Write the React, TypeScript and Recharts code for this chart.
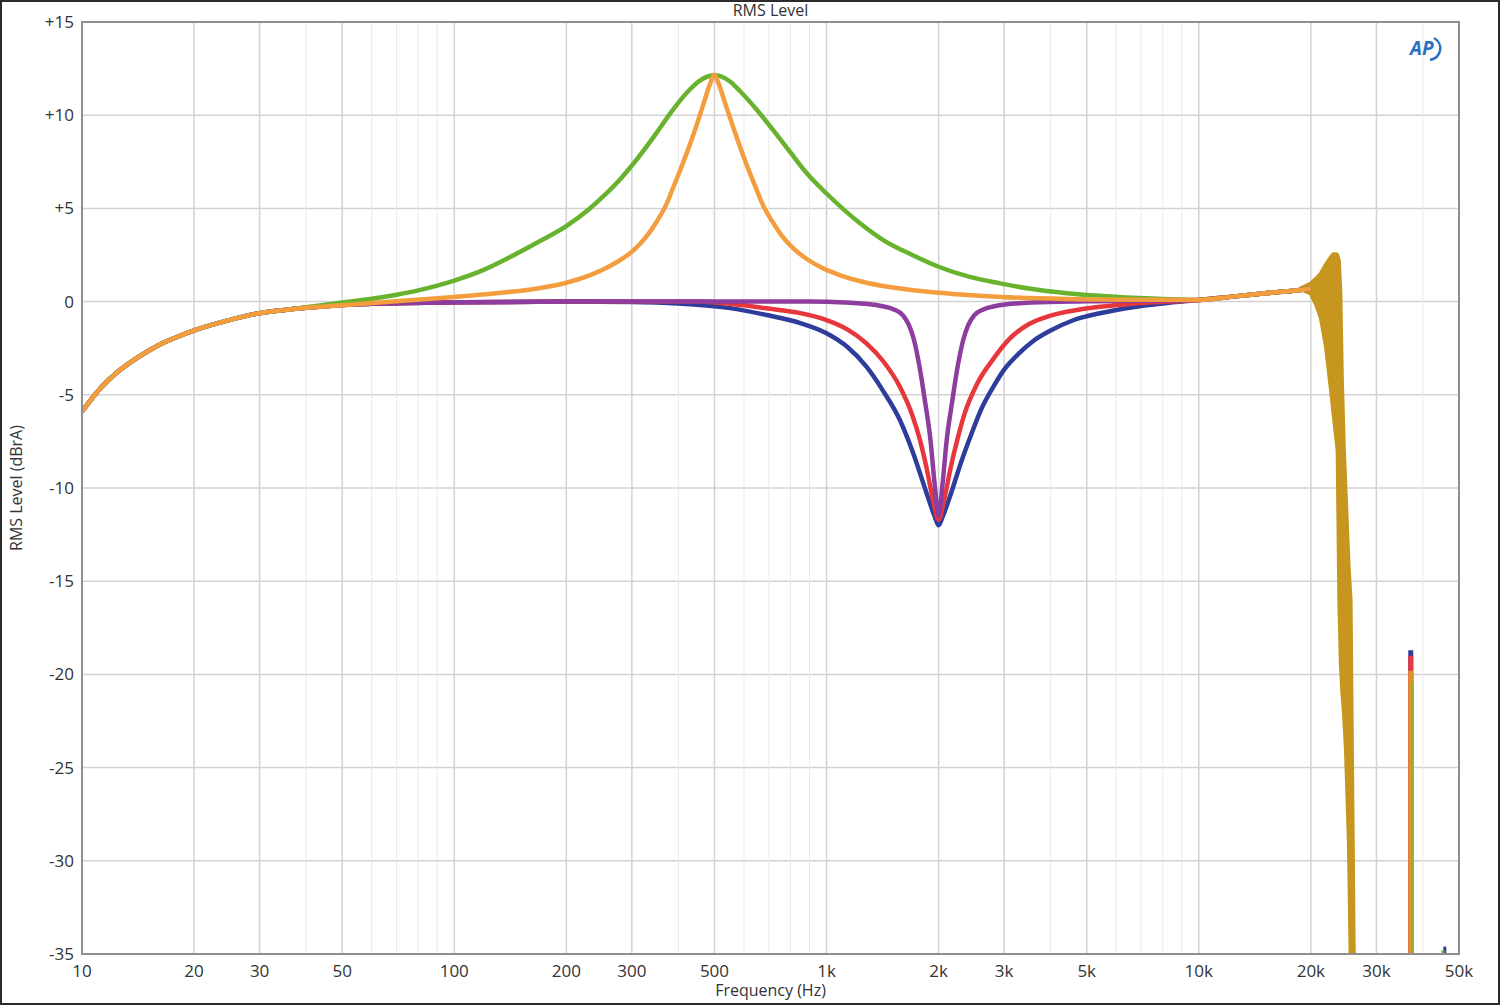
import { Area, CartesianGrid, ComposedChart, Line, XAxis, YAxis } from "recharts";

type Pt = [number, number];

// axis ticks
const xTicks = [10, 20, 30, 50, 100, 200, 300, 500, 1000, 2000, 3000, 5000, 10000, 20000, 30000, 50000];
const xTickLabels = ["10", "20", "30", "50", "100", "200", "300", "500", "1k", "2k", "3k", "5k", "10k", "20k", "30k", "50k"];
const minorFreqs = [40, 60, 70, 80, 90, 400, 600, 700, 800, 900, 4000, 6000, 7000, 8000, 9000, 40000];
const yTicks = [-35, -30, -25, -20, -15, -10, -5, 0, 5, 10, 15];
const yTickLabels = ["-35", "-30", "-25", "-20", "-15", "-10", "-5", "0", "+5", "+10", "+15"];

// shared roll-off ends (Hz, dBrA)
const lowEnd: Pt[] = [
  [10, -5.9], [11.3, -4.57], [12.5, -3.75], [14.2, -2.96], [16, -2.35], [18, -1.9],
  [20.2, -1.52], [25, -0.98], [29.8, -0.63], [35, -0.45],
];
const highEnd: Pt[] = [[10000, 0.09], [12500, 0.28], [15100, 0.45], [18690, 0.62], [20000, 0.7]];

const blueMid: Pt[] = [
  [40, -0.33], [50, -0.18], [60, -0.12], [80, -0.07], [105, -0.03], [200, 0], [300, -0.02],
  [400, -0.1], [457, -0.18], [550, -0.35], [690, -0.72], [850, -1.15], [1000, -1.7],
  [1140, -2.45], [1280, -3.49], [1420, -4.8], [1574, -6.35], [1700, -8.0], [1857, -10.28],
  [1950, -11.5], [2000, -12.0], [2050, -11.55], [2150, -10.4], [2300, -8.6], [2450, -7.1],
  [2600, -5.8], [2800, -4.6], [3000, -3.65], [3300, -2.75], [3600, -2.1], [4000, -1.55],
  [4600, -1.0], [5500, -0.6], [6650, -0.3], [8000, -0.1],
];
const redMid: Pt[] = [
  [40, -0.33], [50, -0.18], [60, -0.12], [105, -0.03], [200, 0], [457, 0], [550, -0.12],
  [690, -0.36], [850, -0.62], [1000, -0.99], [1140, -1.5], [1280, -2.24], [1420, -3.2],
  [1574, -4.57], [1700, -6.1], [1782, -7.42], [1860, -9.0], [1932, -10.64], [2000, -11.7],
  [2070, -10.64], [2150, -9.0], [2245, -7.42], [2350, -6.0], [2540, -4.4], [2800, -3.1],
  [3100, -2.0], [3500, -1.2], [4000, -0.75], [4700, -0.45], [5800, -0.22], [7000, -0.08],
];
const purpleMid: Pt[] = [
  [40, -0.33], [50, -0.18], [60, -0.12], [105, -0.03], [200, 0], [900, 0], [1125, -0.05],
  [1416, -0.25], [1517, -0.42], [1607, -0.75], [1664, -1.25], [1718, -2.06], [1790, -3.85],
  [1837, -5.3], [1902, -7.42], [1952, -9.8], [2000, -11.5], [2049, -9.8], [2103, -7.42],
  [2178, -5.3], [2234, -3.85], [2329, -2.06], [2404, -1.25], [2489, -0.75], [2637, -0.42],
  [2825, -0.25], [3557, -0.05], [5000, 0.02],
];
const orangeMid: Pt[] = [
  [40, -0.33], [50, -0.2], [70, 0.02], [85, 0.14], [112, 0.33], [138, 0.5], [169, 0.72],
  [199, 1.0], [229, 1.38], [256, 1.8], [283, 2.3], [305, 2.8], [330, 3.55], [350, 4.3],
  [371, 5.2], [387, 6.1], [409, 7.3], [430, 8.45], [450, 9.6], [467, 10.6], [485, 11.6],
  [500, 12.16], [515, 11.6], [535, 10.6], [556, 9.6], [582, 8.45], [611, 7.3], [646, 6.1],
  [674, 5.2], [715, 4.3], [757, 3.55], [820, 2.8], [883, 2.3], [975, 1.8], [1094, 1.4],
  [1256, 1.05], [1476, 0.78], [1816, 0.55], [2233, 0.4], [2944, 0.25], [4417, 0.14],
  [7000, 0.1],
];
const greenMid: Pt[] = [
  [40, -0.3], [50, -0.05], [60, 0.15], [70, 0.37], [80, 0.6], [90, 0.86], [100, 1.13],
  [120, 1.7], [140, 2.35], [170, 3.25], [200, 4.05], [230, 4.95], [250, 5.6], [283, 6.7],
  [300, 7.3], [348, 9.0], [387, 10.3], [428, 11.35], [457, 11.85], [480, 12.08], [500, 12.16],
  [520, 12.08], [547, 11.85], [585, 11.3], [646, 10.35], [719, 9.2], [800, 8.0], [884, 6.9],
  [1000, 5.8], [1230, 4.2], [1420, 3.3], [1700, 2.5], [2000, 1.87], [2400, 1.35],
  [2924, 0.98], [3500, 0.7], [4417, 0.45], [5500, 0.3], [6650, 0.2], [8000, 0.14],
];

// ringing band near the upper band edge: [Hz, low, high]
const ringBand: [number, number, number][] = [
  [18690, 0.62, 0.75], [19880, 0.4, 1.0], [20630, -0.27, 1.3], [21150, -0.9, 1.53],
  [21820, -2.4, 2.0], [22500, -4.7, 2.4], [22920, -6.2, 2.6], [23460, -8, 2.6],
  [23700, -16, 2.5], [23930, -19.5, 2.2], [24150, -21, 0.5], [24380, -22, -4.2],
  [24690, -24, -8], [25150, -29, -12], [25460, -36, -14.5], [25730, -36, -16],
  [25940, -36, -24], [26260, -36, -36],
];

// spurious spikes above the band
const blueSpike: Pt[] = [[37100, -36], [37100, -18.7]];
const redSpike: Pt[] = [[37100, -36], [37100, -19.0]];
const orangeSpike: Pt[] = [[37100, -36], [37100, -19.8]];
const greenSpike: Pt[] = [[37550, -36], [37550, -20.4]];
const blueTiny: Pt[] = [[45800, -36], [45800, -34.6]];
const greenTiny: Pt[] = [[45300, -36], [45300, -34.8]];

const toRows = (pts: Pt[]) => pts.map(([f, v]) => ({ f, v }));
const curve = (mid: Pt[]) => toRows([...lowEnd, ...mid, ...highEnd]);

const series = [
  { key: "blue", color: "#2e3d9c", data: curve(blueMid) },
  { key: "red", color: "#e7363c", data: curve(redMid) },
  { key: "purple", color: "#8d3d9e", data: curve(purpleMid) },
  { key: "green", color: "#67b32e", data: curve(greenMid) },
  { key: "orange", color: "#f49d3e", data: curve(orangeMid) },
];

const spikes = [
  { key: "s1", color: "#2e3d9c", width: 5, data: toRows(blueSpike) },
  { key: "s2", color: "#e7363c", width: 5, data: toRows(redSpike) },
  { key: "s3", color: "#e0922c", width: 5, data: toRows(orangeSpike) },
  { key: "s4", color: "#8cb23a", width: 2, data: toRows(greenSpike) },
  { key: "s5", color: "#2e3d9c", width: 3, data: toRows(blueTiny) },
  { key: "s6", color: "#67b32e", width: 3, data: toRows(greenTiny) },
];

const ringRows = ringBand.map(([f, lo, hi]) => ({ f, r: [lo, hi] }));

const font = '"Open Sans", sans-serif';
const tickStyle = { fontSize: 17, fill: "#333", fontFamily: font };

export default function App() {
  return (
    <div
      style={{
        position: "absolute",
        left: 0,
        top: 0,
        width: 1500,
        height: 1005,
        background: "#fff",
        fontFamily: font,
        color: "#333",
      }}
    >
      <ComposedChart width={1500} height={1005} margin={{ top: 22, right: 41, bottom: 21, left: 22 }}>
        <CartesianGrid stroke="#d2d2d2" strokeWidth={1.5} />
        <XAxis
          dataKey="f"
          type="number"
          scale="log"
          domain={[10, 50000]}
          allowDataOverflow
          ticks={xTicks}
          interval={0}
          tickFormatter={(v: number) => xTickLabels[xTicks.indexOf(v)] ?? ""}
          tick={tickStyle}
          tickLine={false}
          axisLine={false}
          tickMargin={5}
          height={30}
        />
        <YAxis
          type="number"
          domain={[-35, 15]}
          allowDataOverflow
          ticks={yTicks}
          interval={0}
          tickFormatter={(v: number) => yTickLabels[yTicks.indexOf(v)] ?? ""}
          tick={tickStyle}
          tickLine={false}
          axisLine={false}
          width={60}
        />
        {minorFreqs.map((f) => (
          <Line
            key={`m${f}`}
            data={[{ f, v: -36 }, { f, v: 16 }]}
            dataKey="v"
            type="linear"
            stroke="#e9e9e9"
            strokeWidth={1}
            dot={false}
            activeDot={false}
            isAnimationActive={false}
          />
        ))}
        {series.map((s) => (
          <Line
            key={s.key}
            data={s.data}
            dataKey="v"
            type="monotone"
            stroke={s.color}
            strokeWidth={4.5}
            dot={false}
            activeDot={false}
            isAnimationActive={false}
          />
        ))}
        <Area
          data={ringRows}
          dataKey="r"
          type="linear"
          stroke="#c6961f"
          strokeWidth={2}
          fill="#c6961f"
          fillOpacity={1}
          dot={false}
          activeDot={false}
          isAnimationActive={false}
        />
        {spikes.map((s) => (
          <Line
            key={s.key}
            data={s.data}
            dataKey="v"
            type="linear"
            stroke={s.color}
            strokeWidth={s.width}
            dot={false}
            activeDot={false}
            isAnimationActive={false}
          />
        ))}
      </ComposedChart>

      {/* plot frame */}
      <div
        style={{
          position: "absolute",
          left: 81,
          top: 21,
          width: 1379,
          height: 934,
          border: "2px solid #8e8e8e",
          boxSizing: "border-box",
          pointerEvents: "none",
        }}
      />
      {/* outer frame */}
      <div
        style={{
          position: "absolute",
          inset: 0,
          border: "2px solid #2b2b2b",
          boxSizing: "border-box",
          pointerEvents: "none",
        }}
      />

      <div style={{ position: "absolute", left: 82, width: 1377, top: 0, lineHeight: "20px", textAlign: "center", fontSize: 16 }}>
        RMS Level
      </div>
      <div style={{ position: "absolute", left: 82, width: 1377, top: 980, lineHeight: "20px", textAlign: "center", fontSize: 16 }}>
        Frequency (Hz)
      </div>
      <div
        style={{
          position: "absolute",
          left: 16,
          top: 488,
          transform: "translate(-50%, -50%) rotate(-90deg)",
          whiteSpace: "nowrap",
          fontSize: 16,
          lineHeight: "20px",
        }}
      >
        RMS Level (dBrA)
      </div>

      {/* AP logo */}
      <svg style={{ position: "absolute", left: 1404, top: 34 }} width={46} height={30}>
        <path d="M30 4 A13 12 0 0 1 26 26" stroke="#2a70c2" strokeWidth={2.5} fill="none" />
        <text x={6} y={21} fontSize={19} fontStyle="italic" fontWeight={700} fill="#2a70c2" fontFamily={font}>
          AP
        </text>
      </svg>
    </div>
  );
}
